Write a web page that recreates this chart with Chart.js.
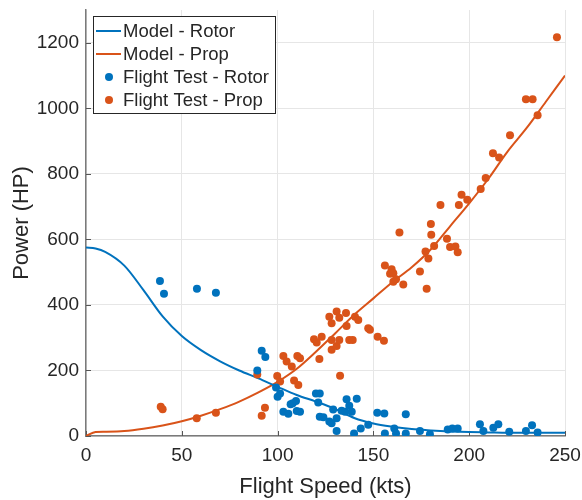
<!DOCTYPE html>
<html>
<head>
<meta charset="utf-8">
<script src="https://cdn.jsdelivr.net/npm/chart.js@4.4.1/dist/chart.umd.min.js"></script>
<style>
  html, body { margin: 0; padding: 0; background: #fff; }
  #wrap { position: relative; width: 582px; height: 500px; }
</style>
</head>
<body>
<div id="wrap"><canvas id="powerChart" width="582" height="500"></canvas></div>
<script>
  const xTicks = [0, 50, 100, 150, 200, 250];
  const yTicks = [0, 200, 400, 600, 800, 1000, 1200];

  // model curves, sampled along flight speed
  const modelSpeed = [0, 5, 10, 20, 30, 40, 50, 60, 70, 80, 90, 100, 110, 120, 130, 140, 150, 160, 170, 180, 190, 200, 210, 220, 230, 240, 250];
  const modelRotor = [575, 572, 562, 520, 445, 365, 305, 262, 228, 200, 176, 150, 125, 105, 83, 55, 38, 28, 21, 17, 14, 12, 11, 10, 10, 10, 10];
  const modelProp = [0, 12, 13, 15, 22, 32, 45, 62, 82, 105, 133, 165, 205, 257, 313, 370, 420, 470, 515, 570, 640, 710, 785, 868, 940, 1020, 1100];

  // flight test points
  const rotorSpeed = [38.6, 40.7, 57.9, 67.8, 89.4, 91.7, 93.6, 99.2, 100, 101.3, 103, 105.6, 106.8, 107.9, 109.6, 110, 111.7, 120, 122, 121.2, 122, 123.9, 127, 128.2, 129, 130.8, 130.8, 133.4, 135.2, 136, 137.4, 138.7, 141.3, 139.9, 143.4, 147.3, 152, 155.7, 156, 161.8, 160.9, 166.9, 166.9, 174.3, 179.5, 188.8, 191.2, 194, 205.6, 207.4, 212.6, 215.2, 220.9, 229.6, 232.8, 235.7];
  const rotorPower = [473, 434, 449, 437, 200, 260, 241, 148, 120, 130, 74, 68, 97, 100, 107, 76, 74, 130, 130, 102, 59, 57, 44, 39, 81, 54, 15, 77, 74, 112, 92, 74, 114, 8, 23, 34, 71, 69, 8, 8, 23, 66, 8, 15, 5, 20, 23, 23, 36, 15, 25, 36, 13, 15, 33, 11];

  const propSpeed = [39, 40, 57.8, 67.8, 89.4, 91.7, 93.4, 99.8, 101.3, 103, 104.7, 107.4, 108.6, 110.3, 110.8, 111.7, 119, 120.4, 121.8, 123, 127, 128.2, 128.2, 128.2, 130.8, 130.8, 132.2, 132.2, 132.6, 135.7, 136, 137.4, 139.2, 140.4, 142.1, 147.3, 148.2, 152.2, 155.5, 156, 158.7, 159.5, 160.4, 160.4, 161.8, 163.6, 165.6, 174.3, 177.2, 177.8, 178.7, 180, 180.2, 181.7, 185, 188.4, 190, 192.8, 194, 194.6, 196, 199, 206, 208.6, 212.4, 215.6, 221.3, 229.6, 233.1, 235.7, 245.8];
  const propPower = [89, 82, 54, 71, 188, 62, 86, 183, 166, 244, 227, 212, 169, 244, 156, 237, 295, 285, 235, 303, 364, 344, 293, 263, 380, 275, 361, 293, 184, 375, 336, 293, 293, 364, 354, 329, 324, 303, 291, 520, 495, 509, 497, 471, 478, 621, 462, 502, 563, 449, 542, 647, 614, 580, 705, 602, 577, 578, 561, 705, 736, 721, 754, 787, 863, 850, 918, 1028, 1028, 979, 1217];

  const blue = "#0072BD";
  const orange = "#D95319";
  const textColor = "#262626";
  const fontFamily = "'Liberation Sans', Arial, sans-serif";

  function toPoints(xs, ys) {
    return xs.map((x, i) => ({ x: x, y: ys[i] }));
  }

  const legendItems = [
    { label: "Model - Rotor", color: blue, kind: "line" },
    { label: "Model - Prop", color: orange, kind: "line" },
    { label: "Flight Test - Rotor", color: blue, kind: "dot" },
    { label: "Flight Test - Prop", color: orange, kind: "dot" },
  ];

  // keep the plot box fixed, labels may hang over the edges
  function noEdgePadding(axis) {
    axis.paddingLeft = 0;
    axis.paddingRight = 0;
    axis.paddingTop = 0;
    axis.paddingBottom = 0;
  }

  // inward tick marks, drawn under the data
  const tickMarks = {
    id: "tickMarks",
    beforeDatasetsDraw(chart) {
      const { ctx, chartArea, scales } = chart;
      ctx.save();
      ctx.strokeStyle = "#555";
      ctx.lineWidth = 1;
      xTicks.forEach((v) => {
        const px = Math.round(scales.x.getPixelForValue(v)) + 0.5;
        ctx.beginPath();
        ctx.moveTo(px, chartArea.bottom);
        ctx.lineTo(px, chartArea.bottom - 5);
        ctx.stroke();
      });
      yTicks.forEach((v) => {
        const py = Math.round(scales.y.getPixelForValue(v)) + 0.5;
        ctx.beginPath();
        ctx.moveTo(chartArea.left, py);
        ctx.lineTo(chartArea.left + 5, py);
        ctx.stroke();
      });
      ctx.restore();
    },
  };

  // boxed legend in the upper left corner of the plot
  const boxLegend = {
    id: "boxLegend",
    afterDraw(chart) {
      const ctx = chart.ctx;
      const left = 93, top = 16, width = 182, height = 97;
      ctx.save();
      ctx.fillStyle = "#fff";
      ctx.fillRect(left, top, width, height);
      ctx.strokeStyle = textColor;
      ctx.lineWidth = 1;
      ctx.strokeRect(left + 0.5, top + 0.5, width, height);
      ctx.font = "18.5px " + fontFamily;
      ctx.textBaseline = "middle";
      legendItems.forEach((item, i) => {
        const y = top + 15 + i * 23;
        if (item.kind === "line") {
          ctx.strokeStyle = item.color;
          ctx.lineWidth = 2;
          ctx.beginPath();
          ctx.moveTo(left + 3, y);
          ctx.lineTo(left + 28, y);
          ctx.stroke();
        } else {
          ctx.fillStyle = item.color;
          ctx.beginPath();
          ctx.arc(left + 16, y, 4, 0, Math.PI * 2);
          ctx.fill();
        }
        ctx.fillStyle = textColor;
        ctx.fillText(item.label, left + 30, y + 1);
      });
      ctx.restore();
    },
  };

  const ctx = document.getElementById("powerChart").getContext("2d");

  const powerChart = new Chart(ctx, {
    type: "scatter",
    data: {
      datasets: [
        {
          label: "Model - Rotor",
          data: toPoints(modelSpeed, modelRotor),
          showLine: true,
          borderColor: blue,
          borderWidth: 2,
          pointRadius: 0,
          cubicInterpolationMode: "monotone",
          order: 2,
        },
        {
          label: "Model - Prop",
          data: toPoints(modelSpeed, modelProp),
          showLine: true,
          borderColor: orange,
          borderWidth: 2,
          pointRadius: 0,
          cubicInterpolationMode: "monotone",
          order: 2,
        },
        {
          label: "Flight Test - Rotor",
          data: toPoints(rotorSpeed, rotorPower),
          backgroundColor: blue,
          borderWidth: 0,
          pointRadius: 4,
          order: 1,
        },
        {
          label: "Flight Test - Prop",
          data: toPoints(propSpeed, propPower),
          backgroundColor: orange,
          borderWidth: 0,
          pointRadius: 4,
          order: 1,
        },
      ],
    },
    options: {
      responsive: false,
      animation: false,
      layout: { padding: { left: 0, right: 17, top: 10, bottom: 0 } },
      scales: {
        x: {
          type: "linear",
          min: 0,
          max: 250,
          afterBuildTicks: (axis) => { axis.ticks = xTicks.map((v) => ({ value: v })); },
          afterFit: (axis) => { axis.height = 64; noEdgePadding(axis); },
          grid: { color: "#e6e6e6", lineWidth: 1, drawTicks: false },
          border: { color: "#7a7a7a", width: 1.5 },
          ticks: { color: textColor, font: { family: fontFamily, size: 19 }, padding: 8, maxRotation: 0, callback: (v) => String(v) },
          title: {
            display: true,
            text: "Flight Speed (kts)",
            color: textColor,
            font: { family: fontFamily, size: 22 },
            padding: { top: 0, bottom: 0 },
          },
        },
        y: {
          type: "linear",
          min: 0,
          max: 1300,
          afterBuildTicks: (axis) => { axis.ticks = yTicks.map((v) => ({ value: v })); },
          afterFit: (axis) => { axis.width = 86; noEdgePadding(axis); },
          grid: { color: "#e6e6e6", lineWidth: 1, drawTicks: false },
          border: { color: "#7a7a7a", width: 1.5 },
          ticks: { color: textColor, font: { family: fontFamily, size: 19 }, padding: 7, callback: (v) => String(v) },
          title: {
            display: true,
            text: "Power (HP)",
            color: textColor,
            font: { family: fontFamily, size: 22 },
            padding: { top: 9, bottom: 0 },
          },
        },
      },
      plugins: {
        legend: { display: false },
        tooltip: { enabled: false },
      },
    },
    plugins: [tickMarks, boxLegend],
  });
</script>
</body>
</html>
